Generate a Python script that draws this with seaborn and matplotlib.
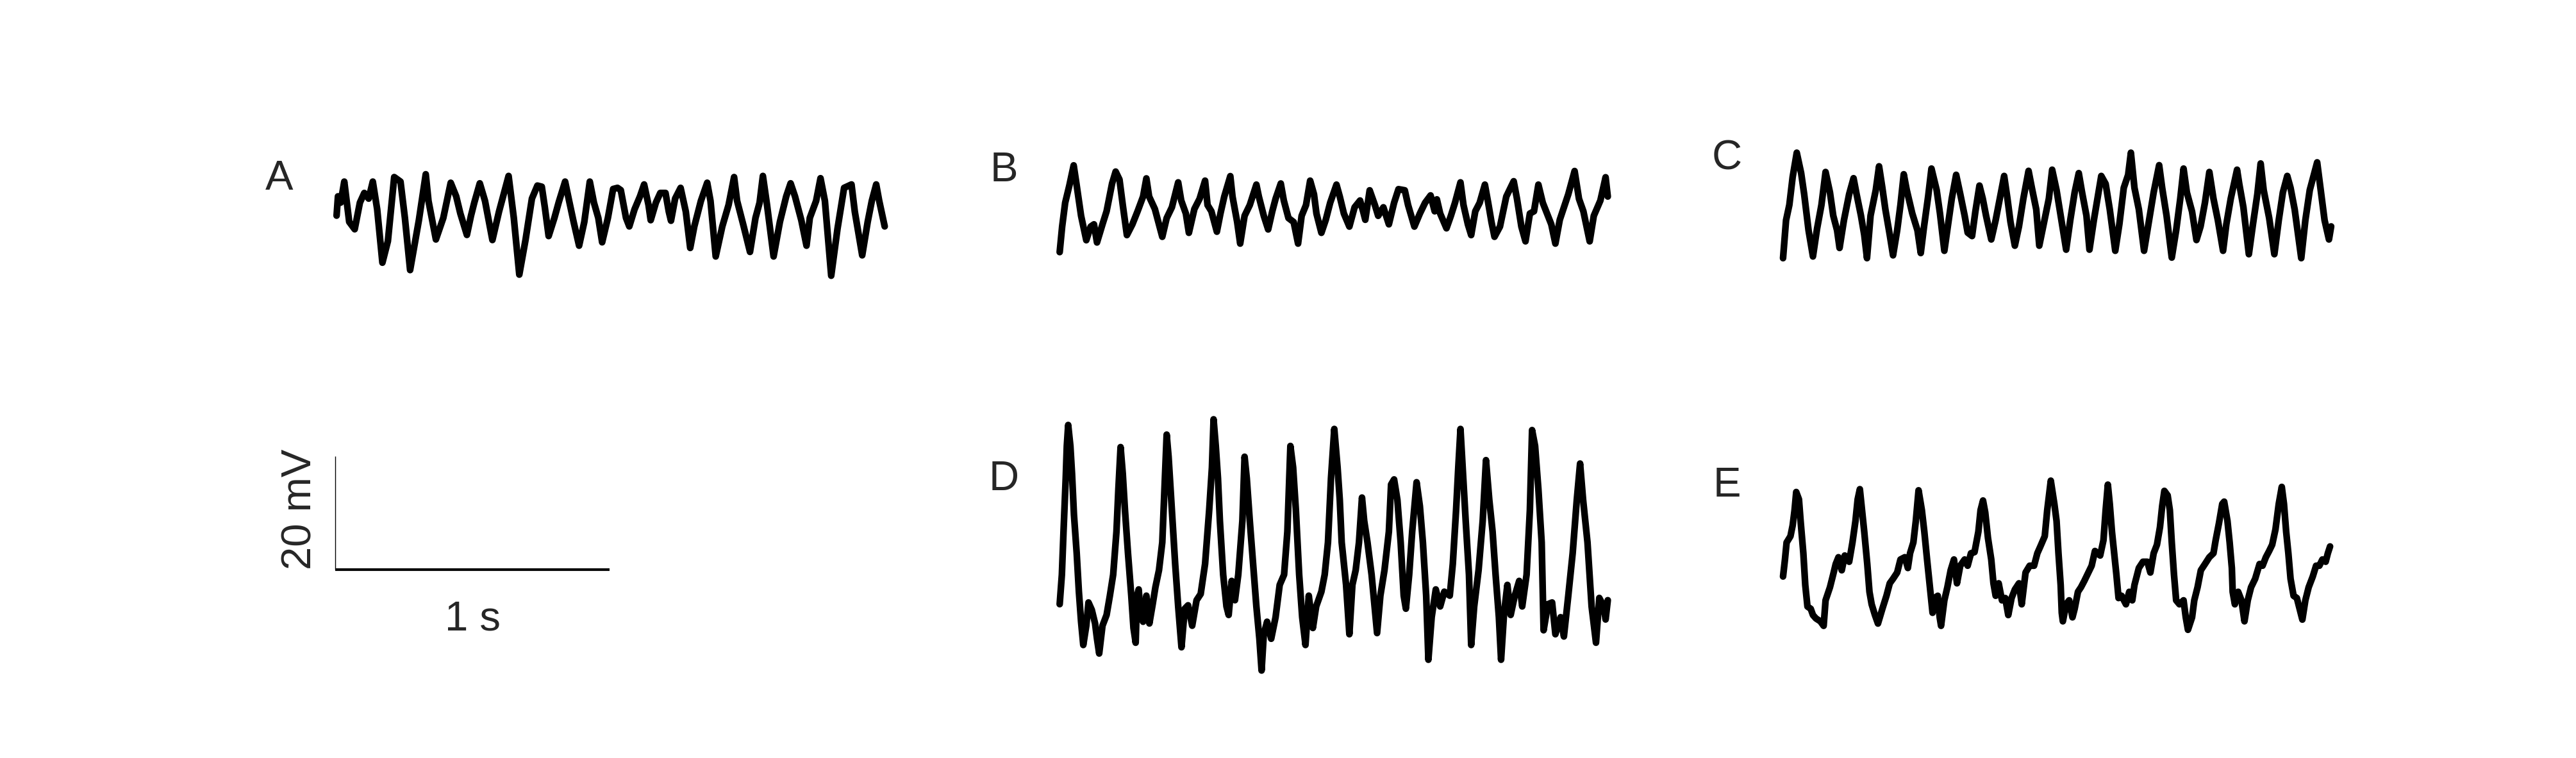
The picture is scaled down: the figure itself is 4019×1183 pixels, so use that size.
import matplotlib
matplotlib.use("Agg")
import matplotlib.pyplot as plt
import seaborn as sns

# Membrane potential traces, time in ms, voltage in mV
A_t = [5, 10, 20, 33, 51, 71, 90, 106, 122, 137,
       153, 172, 192, 215, 238, 254, 273, 305, 330, 340,
       367, 394, 421, 441, 456, 480, 495, 507, 527, 546,
       573, 597, 632, 651, 671, 694, 717, 737, 753, 764,
       778, 799, 815, 838, 854, 869, 889, 908, 928, 943,
       959, 973, 994, 1013, 1029, 1041, 1060, 1072, 1091, 1111,
       1126, 1142, 1150, 1169, 1185, 1204, 1216, 1224, 1239, 1259,
       1278, 1294, 1309, 1333, 1356, 1368, 1387, 1411, 1434, 1454,
       1465, 1489, 1512, 1532, 1547, 1559, 1574, 1598, 1621, 1644,
       1660, 1676, 1699, 1718, 1730, 1753, 1769, 1785, 1808, 1831,
       1855, 1882, 1894, 1921, 1941, 1956, 1972, 1983, 2003]
A_mv = [10.9, 14.3, 13.2, 16.9, 9.8, 8.5, 13.2, 14.9, 13.9, 16.9,
        12.0, 2.6, 6.4, 17.7, 16.9, 10.5, 1.3, 10.1, 18.2, 13.5,
        6.7, 10.5, 16.7, 14.3, 11.3, 7.5, 10.9, 13.2, 16.6, 13.5,
        6.6, 11.6, 17.9, 10.5, 0.5, 6.7, 13.9, 16.2, 16.0, 12.4,
        7.3, 10.5, 13.3, 16.9, 13.2, 9.8, 5.6, 9.8, 16.9, 13.2,
        10.5, 6.2, 10.5, 15.6, 15.8, 15.4, 10.5, 9.0, 12.0, 14.3,
        16.4, 12.8, 10.1, 13.2, 14.9, 14.9, 11.6, 10.0, 13.9, 15.8,
        11.6, 5.2, 9.0, 13.5, 16.7, 13.5, 3.7, 9.0, 12.8, 17.7,
        13.5, 9.0, 4.5, 10.5, 13.2, 17.9, 12.8, 3.7, 9.8, 14.3,
        16.6, 14.3, 10.1, 5.6, 10.5, 13.5, 17.5, 13.5, 0.3, 8.6,
        15.8, 16.4, 11.6, 3.9, 9.8, 13.5, 16.4, 13.5, 9.0]

B_t = [3, 12, 23, 38, 54, 64, 81, 100, 116, 128,
       139, 159, 174, 194, 207, 221, 233, 248, 268, 287,
       307, 319, 329, 350, 377, 393, 412, 435, 446, 463,
       474, 494, 513, 533, 542, 556, 576, 589, 603, 625,
       633, 650, 661, 677, 696, 720, 729, 747, 763, 778,
       790, 809, 820, 837, 856, 872, 885, 901, 916, 930,
       939, 957, 973, 989, 1012, 1024, 1039, 1059, 1078, 1098,
       1109, 1117, 1133, 1152, 1164, 1183, 1203, 1222, 1238, 1261,
       1273, 1296, 1316, 1335, 1355, 1370, 1378, 1390, 1413, 1429,
       1444, 1464, 1475, 1491, 1503, 1518, 1534, 1553, 1565, 1577,
       1588, 1608, 1631, 1658, 1670, 1686, 1701, 1717, 1732, 1748,
       1764, 1795, 1810, 1826, 1857, 1880, 1896, 1912, 1935, 1950,
       1974, 1993, 2001]
B_mv = [0.4, 4.9, 9.1, 12.1, 15.7, 12.5, 6.8, 2.5, 4.9, 5.3,
        2.1, 5.3, 7.6, 12.5, 14.6, 13.2, 8.7, 3.4, 5.3, 7.6,
        10.2, 13.4, 10.2, 8.0, 3.1, 6.4, 8.3, 12.7, 9.5, 7.2,
        3.8, 8.0, 9.8, 13.0, 8.7, 7.6, 4.0, 7.2, 10.2, 13.8,
        10.2, 5.7, 1.9, 6.8, 8.7, 12.3, 10.2, 6.8, 4.4, 7.6,
        9.8, 12.5, 9.5, 6.4, 5.7, 1.9, 6.8, 8.7, 13.0, 10.6,
        7.2, 3.8, 6.1, 9.1, 12.3, 10.2, 7.2, 4.9, 8.3, 9.5,
        7.6, 6.1, 11.3, 8.7, 6.8, 8.3, 5.3, 9.1, 11.5, 11.3,
        8.7, 4.9, 7.2, 9.1, 10.4, 7.6, 9.7, 7.2, 4.6, 6.8,
        9.1, 12.7, 8.7, 5.3, 3.4, 7.6, 9.1, 12.3, 9.1, 5.7,
        3.1, 4.9, 10.2, 12.9, 9.8, 4.9, 2.3, 7.2, 7.6, 12.3,
        9.1, 5.3, 1.9, 6.1, 10.6, 14.7, 9.8, 7.6, 2.3, 6.8,
        9.5, 13.6, 10.2]

C_t = [2, 13, 25, 37, 52, 68, 79, 95, 111, 126,
       142, 157, 173, 185, 199, 208, 224, 243, 259, 270,
       286, 298, 308, 321, 340, 352, 364, 375, 391, 403,
       418, 430, 442, 453, 473, 492, 504, 516, 531, 543,
       562, 574, 590, 605, 617, 633, 648, 664, 675, 691,
       703, 718, 730, 742, 761, 777, 792, 808, 820, 831,
       847, 862, 878, 897, 909, 925, 936, 952, 971, 983,
       999, 1014, 1034, 1049, 1065, 1080, 1092, 1108, 1119, 1135,
       1151, 1162, 1178, 1193, 1213, 1228, 1244, 1260, 1270, 1283,
       1299, 1318, 1334, 1353, 1373, 1384, 1400, 1419, 1435, 1450,
       1462, 1474, 1493, 1509, 1524, 1540, 1556, 1571, 1587, 1606,
       1618, 1634, 1657, 1665, 1680, 1700, 1715, 1731, 1743, 1754,
       1774, 1793, 1809, 1824, 1840, 1852, 1867, 1891, 1906, 1922,
       1949, 1961, 1976, 1992, 2000]
C_mv = [0.8, 7.5, 10.2, 15.1, 19.4, 15.8, 12.1, 5.7, 1.1, 6.0,
        10.2, 16.0, 12.4, 8.3, 5.7, 2.6, 7.5, 12.1, 14.9, 12.1,
        8.3, 4.9, 0.8, 8.3, 12.8, 17.0, 13.2, 9.4, 4.9, 1.3,
        5.7, 10.2, 15.6, 12.8, 8.7, 5.7, 1.7, 6.4, 11.7, 16.6,
        12.8, 8.7, 2.1, 7.2, 11.3, 15.5, 12.1, 8.3, 5.3, 4.7,
        9.0, 13.6, 11.3, 8.3, 4.1, 7.5, 11.3, 15.3, 11.3, 7.2,
        3.0, 6.4, 11.3, 16.2, 13.2, 9.4, 3.0, 6.8, 11.3, 16.4,
        12.8, 8.3, 2.3, 7.5, 12.4, 15.8, 12.4, 8.3, 2.3, 7.5,
        12.1, 15.3, 13.9, 9.4, 2.1, 6.8, 13.2, 15.5, 19.4, 13.2,
        9.4, 2.1, 6.8, 12.4, 17.2, 13.2, 8.3, 0.9, 5.7, 11.3,
        16.6, 12.4, 9.0, 4.0, 6.4, 10.6, 16.0, 11.3, 7.5, 2.1,
        6.8, 11.3, 16.4, 13.9, 9.8, 1.5, 6.8, 12.1, 17.5, 12.8,
        7.9, 1.5, 7.5, 12.4, 15.3, 13.2, 9.4, 0.8, 7.5, 12.8,
        17.7, 13.2, 7.5, 4.1, 6.4]

D_t = [3, 11, 17, 25, 29, 34, 42, 48, 55, 65,
       73, 81, 89, 100, 108, 120, 132, 139, 147, 159,
       174, 186, 198, 210, 217, 225, 233, 241, 252, 264,
       272, 280, 285, 291, 299, 307, 319, 330, 342, 352,
       365, 377, 385, 393, 400, 412, 424, 435, 447, 459,
       471, 486, 502, 517, 533, 548, 558, 564, 572, 580,
       587, 599, 611, 619, 630, 642, 654, 669, 677, 685,
       696, 708, 720, 731, 739, 747, 759, 774, 790, 805,
       821, 833, 844, 854, 864, 876, 887, 899, 911, 926,
       938, 957, 969, 981, 992, 1004, 1016, 1024, 1031, 1047,
       1059, 1070, 1082, 1094, 1105, 1113, 1125, 1140, 1160, 1172,
       1187, 1203, 1211, 1222, 1234, 1246, 1257, 1265, 1277, 1288,
       1304, 1316, 1327, 1339, 1347, 1359, 1374, 1390, 1405, 1425,
       1436, 1448, 1456, 1464, 1472, 1483, 1495, 1503, 1514, 1530,
       1545, 1557, 1569, 1581, 1592, 1604, 1612, 1623, 1635, 1647,
       1662, 1678, 1689, 1705, 1717, 1725, 1736, 1748, 1760, 1767,
       1783, 1798, 1810, 1829, 1841, 1857, 1873, 1888, 1900, 1911,
       1927, 1942, 1958, 1970, 1986, 1993, 2001]
D_mv = [12.1, 17.3, 24.9, 34.3, 40.0, 43.7, 40.0, 35.1, 27.9, 21.1,
        14.3, 9.0, 4.9, 8.3, 12.4, 11.1, 8.7, 6.0, 3.4, 8.3,
        10.2, 13.6, 17.3, 24.9, 32.4, 39.8, 35.1, 28.7, 21.1, 13.6,
        7.9, 5.3, 13.6, 14.7, 9.8, 9.0, 13.6, 8.7, 12.1, 15.1,
        18.1, 23.0, 32.4, 42.0, 38.1, 28.7, 19.2, 11.7, 4.5, 11.3,
        11.9, 8.3, 12.8, 13.9, 19.2, 28.7, 36.2, 44.7, 40.0, 34.3,
        26.8, 17.3, 11.7, 10.2, 16.2, 12.8, 17.3, 26.8, 38.1, 34.3,
        26.8, 19.2, 11.7, 6.0, 0.4, 6.8, 9.0, 6.0, 9.8, 15.5,
        17.3, 24.9, 40.0, 36.2, 28.7, 17.3, 9.8, 4.9, 13.6, 7.9,
        11.7, 14.3, 17.3, 23.0, 34.3, 43.0, 36.2, 30.5, 23.0, 15.5,
        6.8, 15.5, 18.1, 23.0, 30.9, 26.8, 23.0, 17.3, 7.0, 13.6,
        18.1, 24.9, 33.2, 34.1, 30.5, 23.0, 13.6, 11.3, 17.3, 24.9,
        33.6, 29.4, 23.0, 13.6, 2.3, 9.8, 14.7, 11.7, 14.3, 13.6,
        19.2, 28.7, 36.2, 43.0, 36.2, 26.8, 17.3, 4.9, 11.7, 18.1,
        26.8, 37.5, 30.5, 24.9, 17.3, 9.8, 2.3, 10.6, 15.5, 10.2,
        13.6, 16.2, 11.7, 17.3, 28.7, 42.8, 40.0, 32.4, 23.0, 7.5,
        12.1, 12.4, 6.8, 9.8, 6.4, 13.6, 21.1, 30.5, 36.9, 30.5,
        23.0, 11.7, 5.3, 13.2, 11.7, 9.4, 12.8]

E_t = [2, 9, 15, 29, 37, 44, 50, 60, 66, 76,
       83, 91, 103, 111, 122, 138, 150, 157, 173, 185,
       194, 204, 216, 227, 243, 255, 266, 274, 282, 290,
       298, 309, 317, 325, 337, 348, 364, 379, 391, 403,
       418, 430, 446, 457, 465, 477, 486, 496, 508, 517,
       527, 539, 547, 555, 566, 573, 578, 590, 601, 613,
       625, 636, 648, 664, 675, 687, 700, 714, 722, 731,
       739, 749, 761, 769, 777, 788, 800, 812, 823, 835,
       847, 862, 872, 886, 901, 917, 929, 940, 956, 965,
       978, 991, 999, 1006, 1014, 1018, 1022, 1034, 1045, 1057,
       1065, 1077, 1088, 1100, 1112, 1127, 1139, 1158, 1170, 1178,
       1186, 1193, 1201, 1209, 1217, 1225, 1236, 1252, 1264, 1275,
       1283, 1299, 1314, 1330, 1341, 1353, 1365, 1376, 1384, 1392,
       1404, 1412, 1419, 1427, 1435, 1447, 1462, 1470, 1478, 1493,
       1501, 1513, 1525, 1540, 1556, 1571, 1579, 1591, 1603, 1610,
       1622, 1630, 1638, 1641, 1649, 1661, 1673, 1684, 1696, 1708,
       1723, 1739, 1750, 1762, 1774, 1785, 1797, 1809, 1820, 1828,
       1836, 1844, 1852, 1863, 1875, 1883, 1895, 1906, 1918, 1933,
       1945, 1957, 1968, 1980, 1988, 1996]
E_mv = [10.2, 13.2, 16.2, 17.3, 19.2, 21.9, 25.1, 23.8, 20.0, 14.3,
        8.7, 4.9, 4.5, 3.4, 2.8, 2.3, 1.5, 6.0, 8.3, 10.6,
        12.4, 13.6, 11.3, 13.9, 12.8, 16.2, 20.0, 23.8, 25.6, 21.9,
        18.1, 12.4, 7.5, 5.3, 3.4, 1.9, 4.5, 6.8, 9.0, 9.8,
        10.9, 13.2, 13.6, 11.7, 14.3, 16.2, 20.0, 25.4, 21.9, 18.1,
        13.2, 7.5, 3.8, 6.4, 6.8, 3.0, 1.5, 6.0, 8.3, 11.3,
        13.2, 9.0, 12.1, 13.2, 12.1, 14.3, 14.5, 18.1, 21.9, 23.6,
        21.5, 17.0, 13.2, 9.0, 6.8, 9.0, 6.0, 6.4, 3.4, 6.4,
        7.9, 9.0, 5.3, 10.9, 12.1, 12.1, 14.3, 15.5, 17.3, 21.9,
        27.1, 23.0, 20.0, 14.3, 8.7, 3.8, 2.3, 5.3, 6.0, 3.0,
        4.5, 7.5, 8.3, 9.4, 10.6, 12.1, 14.7, 13.9, 16.6, 21.9,
        26.4, 23.0, 18.1, 14.3, 10.6, 6.4, 6.8, 5.3, 7.5, 6.0,
        8.7, 11.7, 12.8, 12.8, 10.9, 14.3, 15.8, 18.9, 22.6, 25.3,
        24.5, 21.9, 16.2, 10.6, 6.0, 5.3, 6.0, 3.0, 0.8, 3.0,
        6.0, 8.3, 11.3, 12.4, 13.6, 14.3, 16.6, 19.6, 23.0, 23.4,
        20.0, 16.2, 11.7, 7.5, 5.3, 7.5, 6.0, 2.3, 6.0, 8.3,
        9.8, 12.4, 12.1, 13.6, 14.7, 15.8, 18.5, 23.0, 26.0, 23.0,
        18.1, 14.3, 9.8, 6.8, 6.4, 4.9, 2.6, 6.0, 8.3, 10.2,
        12.1, 12.1, 13.2, 12.8, 14.3, 15.5]

panel_names = ["A", "B", "C", "D", "E"]
traces = {"A": (A_t, A_mv), "B": (B_t, B_mv), "C": (C_t, C_mv),
          "D": (D_t, D_mv), "E": (E_t, E_mv)}

scale_ms = 1000
scale_mv = 20

# layout in pixels of the 4019 x 1183 canvas
W, H = 4019, 1183
PX_MS = 0.428   # horizontal pixels per ms
PX_MV = 8.85    # vertical pixels per mV
# trace start x, y of 0 mV, label x, label baseline y
layout = {
    "A": (523, 433, 436, 296),
    "B": (1652, 397, 1566, 283),
    "C": (2781, 410, 2694, 265),
    "D": (1652, 1050, 1566, 765),
    "E": (2781, 990, 2694, 775),
}
XLIM = (-60, 2060)
YLIM = (-10, 50)

sns.set_style("white")
plt.rcParams["font.family"] = ["Liberation Sans", "DejaVu Sans"]

fig = plt.figure(figsize=(W / 100, H / 100), dpi=100)


def make_axes(x0, y0):
    left = x0 + XLIM[0] * PX_MS
    width = (XLIM[1] - XLIM[0]) * PX_MS
    bottom = y0 - YLIM[0] * PX_MV
    height = (YLIM[1] - YLIM[0]) * PX_MV
    ax = fig.add_axes([left / W, 1 - bottom / H, width / W, height / H])
    ax.set_xlim(*XLIM)
    ax.set_ylim(*YLIM)
    ax.set_axis_off()
    return ax


for name in panel_names:
    t, mv = traces[name]
    assert len(t) == len(mv), name
    x0, y0, lx, ly = layout[name]
    ax = make_axes(x0, y0)
    sns.lineplot(x=t, y=mv, ax=ax, color="black", linewidth=7.5,
                 sort=False, estimator=None)
    fig.text(lx / W, 1 - ly / H, name, fontsize=47, ha="center",
             va="baseline")

# scale bar
ax_s = make_axes(523, 889)
ax_s.plot([0, 0], [0, scale_mv], color="black", linewidth=1.0,
          solid_capstyle="butt")
ax_s.plot([0, scale_ms], [0, 0], color="black", linewidth=3.0,
          solid_capstyle="butt")
fig.text(468 / W, 1 - 795 / H, f"{scale_mv} mV", fontsize=47,
         rotation=90, ha="center", va="center")
fig.text(737 / W, 1 - 983 / H, "1 s", fontsize=47, ha="center",
         va="baseline")

fig.savefig("out.png", dpi=100, facecolor="white")
